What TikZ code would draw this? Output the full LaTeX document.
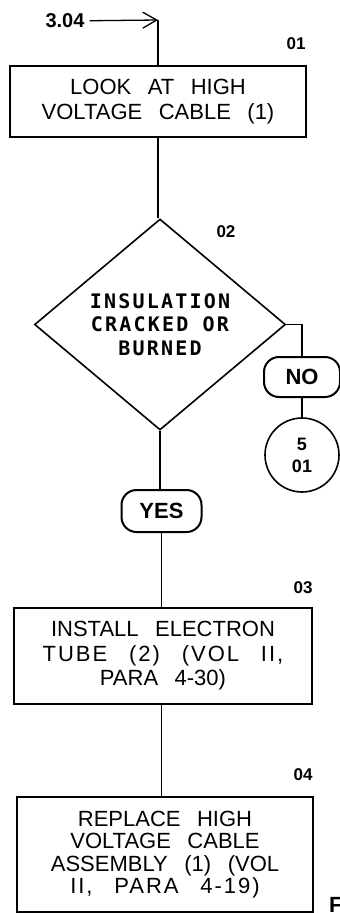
\documentclass[tikz,border=0pt]{standalone}
\usepackage{fontspec}
\setmainfont{Liberation Sans}
\newfontfamily\boxfont[WordSpace=2.7]{Liberation Sans}
\newfontfamily\decfont[LetterSpace=11]{DejaVu Sans Mono}
\usetikzlibrary{positioning,arrows.meta,shapes.geometric}
\tikzset{fbox/.style={rectangle, draw, line width=1.8pt, inner sep=0pt, align=center, font=\boxfont\fontsize{22}{24.5}\selectfont}}
\tikzset{fdec/.style={diamond, draw, line width=1.6pt, inner sep=0pt, aspect=1.19, align=center, font=\decfont\bfseries\fontsize{20}{23.5}\selectfont}}
\tikzset{fterm/.style={rectangle, rounded corners=15pt, draw, line width=2pt, minimum width=76pt, minimum height=40pt, inner sep=0pt, font=\bfseries\fontsize{22}{22}\selectfont}}
\tikzset{fconn/.style={circle, draw, line width=1.6pt, minimum size=74pt, inner sep=0pt, align=center, font=\bfseries\fontsize{18}{22}\selectfont}}
\tikzset{fnum/.style={font=\bfseries\fontsize{17}{18}\selectfont, inner sep=1pt}}
\tikzset{fedge/.style={draw, line width=1.3pt}}

\begin{document}
\begin{tikzpicture}[x=1pt,y=-1pt]
  \useasboundingbox (0,0) rectangle (340,913);

  \node[fnum, font=\bfseries\fontsize{20}{22}\selectfont] (t304) at (65,21) {3.04};
  \coordinate (ent) at (158,20);

  \node[fbox, minimum width=296pt, minimum height=71pt] (look) at (158,101.5) {LOOK AT HIGH\\VOLTAGE CABLE (1)};
  \node[fnum] (n01) at (296,44) {01};

  \node[fdec, minimum width=251pt, minimum height=211pt] (insul) at (160,324.5) {INSULATION\\CRACKED OR\\BURNED};
  \node[fnum] (n02) at (226,232) {02};

  \node[fterm] (no) at (302,377) {NO};
  \node[fconn] (goto) at (302,455) {5\\01};

  \node[fterm, minimum width=80pt, minimum height=42pt] (yes) at (161.5,511) {YES};

  \node[fbox, minimum width=298pt, minimum height=96pt] (tube) at (163,656) {INSTALL ELECTRON\\{\addfontfeature{LetterSpace=9}TUBE (2) (VOL II,}\\PARA 4-30)};
  \node[fnum] (n03) at (303,588) {03};

  \node[fbox, minimum width=296pt, minimum height=115pt, font=\boxfont\fontsize{22}{22.5}\selectfont] (repl) at (165,854.5) {REPLACE HIGH\\VOLTAGE CABLE\\ASSEMBLY (1) (VOL\\{\addfontfeature{LetterSpace=9}II, PARA 4-19)}};
  \node[fnum] (n04) at (303,775) {04};

  \node[anchor=north west, inner sep=0pt, font=\bfseries\fontsize{22}{22}\selectfont] (fig) at (329,897) {F};

  \draw[fedge, -{Straight Barb[length=14pt,width=16pt]}, shorten <=4pt] (t304) -- (ent);
  \draw[fedge] (ent) -- (look);
  \draw[fedge] (look.south) -- (look.south |- insul.north);
  \draw[fedge] (insul.east) -| (no.north);
  \draw[fedge] (no) -- (goto);
  \draw[fedge] (insul.south) -- (insul.south |- yes.north);
  \draw[fedge] (yes.south) -- (yes.south |- tube.north);
  \draw[fedge] (yes.south |- tube.south) -- (yes.south |- repl.north);
\end{tikzpicture}
\end{document}
